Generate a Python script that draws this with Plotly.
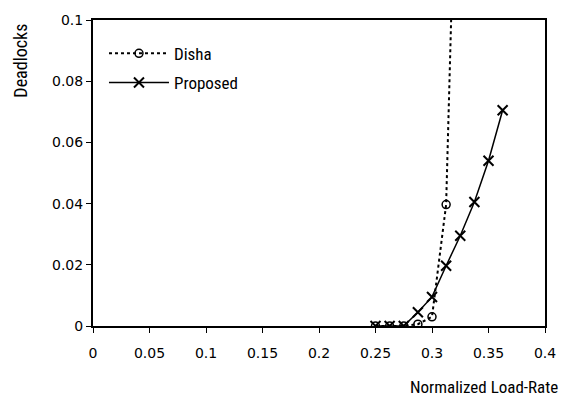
import plotly.graph_objects as go

load_rate = [0.25, 0.2625, 0.275, 0.2875, 0.3, 0.3125, 0.325, 0.3375, 0.35, 0.3625]
proposed = [0, 0, 0, 0.0045, 0.0095, 0.0197, 0.0295, 0.0405, 0.054, 0.0705]

disha_x = [0.25, 0.2625, 0.275, 0.2875, 0.3, 0.3125, 0.325]
disha = [0, 0, 0, 0.0006, 0.003, 0.0397, 0.21]

x_ticks = [0, 0.05, 0.1, 0.15, 0.2, 0.25, 0.3, 0.35, 0.4]
y_ticks = [0, 0.02, 0.04, 0.06, 0.08, 0.1]

tick_font = "Verdana, DejaVu Sans, sans-serif"
narrow_font = "Liberation Sans Narrow, Arial Narrow, Roboto Condensed, sans-serif"

fig = go.Figure()
fig.add_trace(go.Scatter(
    x=disha_x, y=disha, name="Disha", mode="lines+markers", legendgroup="a",
    line=dict(color="black", width=2, dash="dot"),
    marker=dict(symbol="circle-open", size=8, color="black", line=dict(width=1.5)),
    cliponaxis=True,
))
fig.add_trace(go.Scatter(
    x=load_rate, y=proposed, name="Proposed", mode="lines+markers", legendgroup="b",
    line=dict(color="black", width=1.5),
    marker=dict(symbol="x-thin", size=10, color="black", line=dict(width=2, color="black")),
))

pw, ph = 568 - 93 - 22, 403 - 16 - 77

fig.update_layout(
    width=568, height=403,
    margin=dict(l=93, r=22, t=16, b=77),
    paper_bgcolor="white", plot_bgcolor="white",
    font=dict(family=tick_font, size=14, color="black"),
    showlegend=True,
    legend=dict(x=(104 - 93) / pw, y=(326 - 32) / ph, xanchor="left", yanchor="top",
                bgcolor="rgba(0,0,0,0)", font=dict(size=17, family=narrow_font),
                traceorder="grouped", tracegroupgap=4, itemwidth=60),
    xaxis=dict(range=[0, 0.4], tickvals=x_ticks,
               ticktext=[f"{v:g}" for v in x_ticks],
               showline=True, linecolor="black", linewidth=2, mirror=True,
               ticks="outside", ticklen=5, tickcolor="black",
               showgrid=False, zeroline=False, ticklabelstandoff=8),
    yaxis=dict(range=[0, 0.1], tickvals=y_ticks,
               ticktext=[f"{v:g}" for v in y_ticks],
               showline=True, linecolor="black", linewidth=2, mirror=True,
               ticks="outside", ticklen=5, tickcolor="black",
               showgrid=False, zeroline=False),
    annotations=[
        dict(text="Normalized Load-Rate", showarrow=False,
             font=dict(size=17, family=narrow_font),
             xref="paper", yref="paper",
             x=(485 - 93) / pw, y=(326 - 388) / ph, xanchor="center", yanchor="middle"),
        dict(text="Deadlocks", textangle=-90, showarrow=False,
             font=dict(size=18, family=narrow_font),
             xref="paper", yref="paper",
             x=(20 - 93) / pw, y=(326 - 57) / ph, xanchor="center", yanchor="middle"),
    ],
)

fig.write_html("out.html")
